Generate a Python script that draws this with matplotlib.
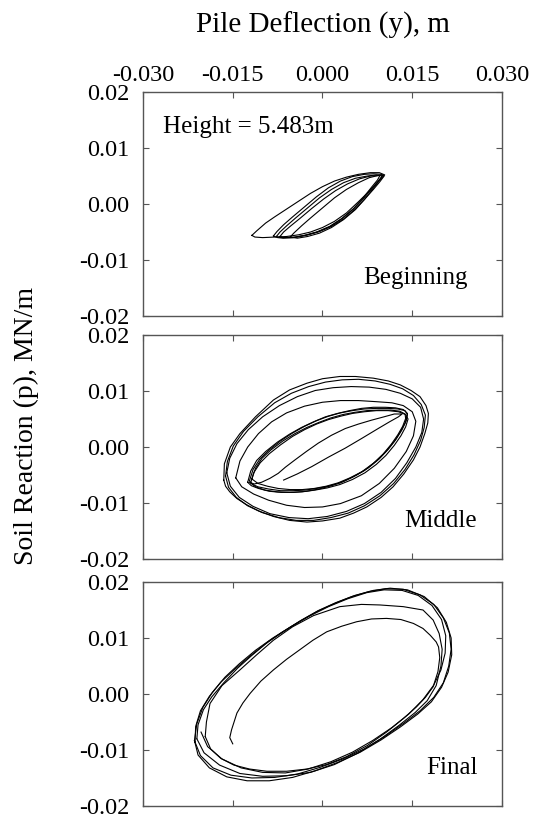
import matplotlib
matplotlib.use('Agg')
import matplotlib.pyplot as plt
from matplotlib.ticker import FormatStrFormatter

plt.rcParams['font.family'] = ['Liberation Serif', 'DejaVu Serif']
plt.rcParams['axes.unicode_minus'] = False

# traces, in units of 1e-3 (y in m, p in MN/m)
SCALE = 1e-3

BEGIN_LOOPS = [
    [(-11.8, -5.6), (-11.0, -4.8), (-9.5, -3.4), (-8.0, -2.3), (-6.0, -0.9), (-4.0, 0.5),
     (-2.0, 1.9), (0.0, 3.1), (2.0, 4.1), (4.0, 4.8), (6.0, 5.3), (8.0, 5.6), (9.5, 5.6),
     (10.4, 5.2), (9.5, 4.2), (8.0, 2.5), (6.0, 0.4), (4.0, -1.6), (2.0, -3.1), (0.0, -4.2),
     (-2.0, -5.0), (-4.0, -5.5), (-6.0, -5.8), (-8.0, -5.9), (-10.0, -6.0), (-11.3, -5.9),
     (-11.8, -5.6)],
    [(-8.2, -5.7), (-7.6, -4.9), (-6.5, -3.7), (-5.0, -2.3), (-3.0, -0.5), (-1.0, 1.3),
     (1.0, 2.9), (3.0, 4.1), (5.0, 4.9), (7.0, 5.3), (8.5, 5.4), (9.8, 5.3), (10.3, 5.0),
     (9.6, 4.0), (8.5, 2.6), (7.0, 0.8), (5.5, -0.9), (3.5, -2.7), (1.5, -4.0), (-0.5, -4.9),
     (-2.5, -5.5), (-4.5, -5.9), (-6.5, -6.0), (-7.8, -5.9), (-8.2, -5.7)],
    [(-7.7, -5.8), (-7.1, -5.0), (-6.0, -3.9), (-4.5, -2.5), (-2.5, -0.7), (-0.5, 1.1),
     (1.5, 2.6), (3.5, 3.8), (5.5, 4.6), (7.5, 5.0), (9.0, 5.2), (10.0, 5.0), (9.3, 4.1),
     (8.2, 2.7), (6.8, 0.9), (5.2, -0.9), (3.3, -2.6), (1.3, -4.0), (-0.8, -5.0),
     (-2.8, -5.6), (-4.8, -6.0), (-6.6, -6.1), (-7.5, -6.0), (-7.7, -5.8)],
    [(-7.1, -5.8), (-6.5, -5.0), (-5.3, -3.9), (-3.8, -2.6), (-1.8, -0.8), (0.2, 0.9),
     (2.2, 2.4), (4.2, 3.6), (6.2, 4.5), (8.0, 5.0), (9.6, 5.1), (9.2, 4.3), (8.2, 3.0),
     (6.8, 1.1), (5.2, -0.8), (3.2, -2.6), (1.2, -4.0), (-1.0, -5.0), (-3.0, -5.6),
     (-5.0, -6.0), (-6.6, -6.0), (-7.1, -5.8)],
    [(-5.4, -5.9), (-4.8, -5.2), (-3.5, -3.9), (-2.0, -2.5), (0.0, -0.7), (2.0, 1.1),
     (4.0, 2.6), (6.0, 3.8), (7.8, 4.7), (9.3, 5.1), (10.1, 5.2), (9.5, 4.2), (8.5, 2.8),
     (7.0, 0.8), (5.5, -1.0), (3.5, -2.8), (1.5, -4.2), (-0.5, -5.2), (-2.5, -5.8),
     (-4.2, -6.1), (-5.4, -5.9)],
]

MIDDLE_LOOPS = [
    [(-6.5, -5.9), (-4.2, -4.8), (-1.8, -3.5), (1.0, -1.8), (3.8, -0.2), (6.5, 1.5),
     (9.3, 3.3), (11.2, 4.5), (12.7, 5.4), (13.3, 5.9), (12.0, 5.9), (10.3, 5.4), (8.2, 4.8),
     (6.0, 4.1), (3.8, 3.3), (1.5, 2.1), (-0.7, 0.7), (-2.7, -0.8), (-4.6, -2.3),
     (-6.2, -3.6), (-7.4, -4.7), (-8.8, -5.6), (-10.2, -6.3), (-11.4, -6.6), (-12.2, -6.3)],
    [(-12.2, -6.0), (-11.6, -4.0), (-10.5, -2.2), (-9.0, -0.6), (-7.0, 1.1), (-5.0, 2.5),
     (-3.0, 3.7), (-1.0, 4.7), (1.0, 5.5), (3.0, 6.1), (5.0, 6.5), (7.0, 6.8), (9.0, 6.9),
     (11.0, 6.9), (12.6, 6.8), (13.8, 6.5), (14.2, 5.8), (13.8, 4.3), (13.0, 2.7),
     (12.0, 1.0), (10.5, -0.9), (9.0, -2.5), (7.0, -4.2), (5.0, -5.4), (3.0, -6.4),
     (1.0, -7.0), (-1.0, -7.4), (-3.0, -7.7), (-5.0, -7.8), (-7.0, -7.8), (-9.0, -7.5),
     (-10.8, -7.1), (-11.8, -6.6), (-12.2, -6.0)],
    [(-11.8, -5.7), (-11.2, -3.8), (-10.1, -2.0), (-8.6, -0.5), (-6.6, 1.1), (-4.6, 2.4),
     (-2.6, 3.5), (-0.6, 4.4), (1.4, 5.2), (3.4, 5.8), (5.4, 6.2), (7.4, 6.5), (9.4, 6.6),
     (11.4, 6.6), (12.9, 6.4), (13.8, 5.9), (13.9, 5.1), (13.4, 3.7), (12.6, 2.2),
     (11.5, 0.5), (10.1, -1.3), (8.5, -2.9), (6.6, -4.4), (4.6, -5.5), (2.6, -6.4),
     (0.6, -7.0), (-1.4, -7.4), (-3.4, -7.6), (-5.4, -7.6), (-7.4, -7.4), (-9.2, -7.0),
     (-10.8, -6.5), (-11.8, -5.7)],
    [(-12.5, -6.3), (-12.0, -4.3), (-11.0, -2.4), (-9.5, -0.8), (-7.5, 0.9), (-5.5, 2.3),
     (-3.5, 3.5), (-1.5, 4.5), (0.5, 5.4), (2.5, 6.0), (4.5, 6.5), (6.5, 6.9), (8.5, 7.1),
     (10.5, 7.1), (12.2, 7.0), (13.5, 6.7), (14.2, 6.0), (14.0, 4.7), (13.3, 3.1),
     (12.3, 1.4), (11.0, -0.4), (9.5, -2.1), (7.7, -3.7), (5.7, -5.0), (3.6, -6.1),
     (1.5, -6.9), (-0.6, -7.5), (-2.7, -7.9), (-4.8, -8.1), (-6.9, -8.1), (-8.9, -7.9),
     (-10.7, -7.4), (-11.9, -6.9), (-12.5, -6.3)],
    [(-12.0, -6.4), (-11.5, -4.6), (-10.4, -2.8), (-8.9, -1.2), (-7.0, 0.4), (-5.0, 1.9),
     (-3.0, 3.1), (-1.0, 4.1), (1.0, 4.9), (3.0, 5.5), (5.0, 6.0), (7.0, 6.3), (9.0, 6.5),
     (11.0, 6.5), (12.7, 6.3), (13.9, 5.8), (14.3, 5.0), (13.9, 3.6), (13.1, 2.0),
     (12.0, 0.3), (10.6, -1.5), (9.0, -3.1), (7.1, -4.6), (5.0, -5.8), (2.9, -6.7),
     (0.8, -7.3), (-1.3, -7.7), (-3.4, -8.0), (-5.5, -8.1), (-7.6, -8.0), (-9.6, -7.7),
     (-11.2, -7.1), (-12.0, -6.4)],
    [(-14.5, -5.5), (-13.8, -2.5), (-12.5, 0.0), (-10.7, 2.4), (-8.5, 4.5), (-6.0, 6.1),
     (-3.0, 7.3), (0.0, 8.0), (3.0, 8.3), (6.0, 8.3), (9.0, 8.1), (11.6, 7.9), (13.5, 7.4),
     (15.0, 6.3), (15.6, 4.6), (15.2, 2.0), (14.0, -0.8), (12.0, -3.8), (9.5, -6.5),
     (6.5, -8.7), (3.0, -10.1), (0.0, -10.7), (-3.0, -10.8), (-6.0, -10.4), (-9.0, -9.5),
     (-11.5, -8.4), (-13.5, -7.1), (-14.5, -5.5)],
    [(-16.5, -5.9), (-16.4, -3.0), (-15.4, 0.0), (-13.8, 2.4), (-11.2, 5.4), (-8.2, 8.4),
     (-5.5, 10.2), (-2.6, 11.4), (0.0, 12.2), (2.9, 12.6), (5.5, 12.6), (8.5, 12.3),
     (11.0, 11.8), (13.0, 11.1), (14.8, 10.1), (16.3, 9.0), (17.3, 7.4), (17.7, 6.0),
     (17.6, 4.3), (17.1, 2.4), (16.3, 0.0), (15.2, -2.3), (13.6, -4.8), (11.8, -7.1),
     (9.8, -9.0), (7.4, -10.7), (5.2, -11.8), (2.9, -12.7), (0.0, -13.2), (-2.6, -13.4),
     (-5.5, -13.1), (-8.2, -12.4), (-10.7, -11.4), (-12.7, -10.3), (-14.3, -9.2),
     (-15.5, -8.0), (-16.2, -7.0), (-16.5, -5.9)],
    [(-16.2, -5.2), (-15.9, -2.6), (-14.9, 0.2), (-13.2, 2.8), (-10.8, 5.4), (-8.0, 7.9),
     (-5.2, 9.6), (-2.3, 10.8), (0.5, 11.6), (3.3, 12.0), (6.0, 12.1), (8.8, 11.8),
     (11.3, 11.2), (13.4, 10.4), (15.2, 9.2), (16.5, 7.6), (17.2, 5.7), (17.0, 3.5),
     (16.4, 1.2), (15.3, -1.4), (13.8, -4.0), (11.9, -6.5), (9.6, -8.7), (7.0, -10.5),
     (4.3, -11.8), (1.4, -12.6), (-1.5, -13.1), (-4.4, -13.1), (-7.3, -12.6), (-10.1, -11.7),
     (-12.5, -10.5), (-14.4, -9.0), (-15.7, -7.2), (-16.2, -5.2)],
    [(-16.0, -4.6), (-15.5, -2.0), (-14.3, 0.6), (-12.4, 3.1), (-10.0, 5.4), (-7.2, 7.4),
     (-4.2, 9.0), (-1.2, 10.1), (1.8, 10.6), (4.8, 10.8), (7.8, 10.7), (10.6, 10.3),
     (13.0, 9.6), (15.0, 8.6), (16.4, 7.1), (16.9, 5.0), (16.6, 2.6), (15.6, 0.0),
     (14.1, -2.8), (12.2, -5.6), (9.8, -8.1), (7.0, -10.1), (4.0, -11.5), (0.8, -12.4),
     (-2.4, -12.8), (-5.6, -12.6), (-8.8, -11.9), (-11.6, -10.6), (-13.9, -9.0),
     (-15.4, -7.0), (-16.0, -4.6)],
]

FINAL_LOOPS = [
    [(-15.0, -8.9), (-15.5, -7.8), (-15.2, -6.4), (-14.3, -3.4), (-13.3, -1.6), (-12.1, 0.1),
     (-10.3, 2.3), (-8.2, 4.3), (-6.0, 6.2), (-3.8, 7.9), (-1.6, 9.6), (0.7, 11.1),
     (3.2, 12.1), (5.7, 12.9), (8.2, 13.4), (10.7, 13.5), (13.1, 13.3), (15.2, 12.6),
     (16.8, 11.7), (18.0, 10.5), (19.0, 9.3), (19.4, 8.4), (19.6, 6.5), (19.3, 4.0),
     (18.5, 1.3), (17.2, -0.6), (15.7, -2.3), (13.5, -4.4), (10.7, -6.8), (7.5, -9.2),
     (4.0, -11.2), (0.7, -12.6), (-2.6, -13.4), (-6.0, -13.8), (-9.3, -13.8), (-12.2, -13.4),
     (-14.8, -12.7), (-17.0, -11.5), (-18.7, -9.8), (-19.6, -7.6)],
    [(-19.6, -7.6), (-19.4, -5.0), (-18.8, -1.7), (-16.8, 1.5), (-13.8, 4.3), (-11.0, 7.0),
     (-8.2, 9.6), (-5.0, 12.0), (-1.5, 14.0), (2.9, 15.6), (6.5, 16.0), (9.6, 15.9),
     (13.5, 15.6), (16.8, 15.0), (18.5, 13.2), (19.5, 10.8), (20.0, 8.0), (19.8, 5.0),
     (19.0, 1.5), (17.5, -1.2), (15.5, -3.3), (12.8, -5.6), (9.6, -8.1), (6.0, -10.5),
     (2.0, -12.6), (-2.0, -14.0), (-6.0, -14.6), (-10.0, -14.7), (-13.8, -14.2),
     (-17.2, -12.7), (-19.8, -10.5), (-21.0, -8.0)],
    [(-21.0, -8.0), (-20.8, -5.5), (-19.9, -2.8), (-18.5, -0.5), (-16.5, 2.0), (-14.2, 4.6),
     (-11.8, 6.9), (-9.0, 9.4), (-6.3, 11.3), (-3.5, 13.2), (-0.7, 14.9), (2.2, 16.3),
     (4.9, 17.4), (7.8, 18.3), (10.6, 18.8), (13.5, 18.7), (16.3, 17.7), (18.6, 16.0),
     (20.2, 13.6), (21.2, 10.9), (21.5, 8.0), (21.1, 5.0), (20.2, 2.0), (18.6, -0.6),
     (16.3, -3.0), (13.6, -5.2), (10.4, -7.6), (7.0, -9.8), (3.4, -11.6), (-0.4, -13.1),
     (-4.2, -14.3), (-8.0, -14.9), (-11.8, -15.0), (-15.3, -14.5), (-18.3, -13.2),
     (-20.4, -11.0), (-21.3, -8.6)],
    [(-21.3, -8.6), (-21.2, -5.8), (-20.4, -3.0), (-18.9, -0.4), (-17.0, 2.1), (-14.8, 4.3),
     (-12.3, 6.6), (-9.6, 8.9), (-6.8, 11.0), (-3.8, 13.0), (-0.8, 14.8), (2.3, 16.3),
     (5.4, 17.6), (8.5, 18.5), (11.3, 18.9), (14.2, 18.6), (17.0, 17.4), (19.2, 15.4),
     (20.7, 12.8), (21.5, 10.0), (21.6, 7.0), (21.0, 3.9), (19.9, 1.2), (18.2, -1.4),
     (15.9, -3.6), (13.0, -5.9), (9.8, -8.2), (6.3, -10.4), (2.6, -12.2), (-1.2, -13.7),
     (-5.0, -14.9), (-8.9, -15.5), (-12.6, -15.5), (-16.0, -14.8), (-18.9, -13.2),
     (-20.8, -10.9), (-21.4, -8.3)],
    [(-21.4, -8.3), (-21.0, -5.3), (-20.0, -2.4), (-18.4, 0.3), (-16.3, 3.0), (-13.9, 5.4),
     (-11.2, 7.8), (-8.3, 10.0), (-5.3, 12.0), (-2.2, 13.9), (1.0, 15.6), (4.2, 17.0),
     (7.4, 18.1), (10.3, 18.6), (13.3, 18.5), (16.0, 17.6), (18.3, 15.8), (19.9, 13.3),
     (20.6, 10.4), (20.5, 7.3), (19.8, 4.3), (18.6, 1.6), (16.8, -1.0), (14.4, -3.6),
     (11.6, -6.0), (8.4, -8.3), (5.0, -10.4), (1.4, -12.1), (-2.4, -13.4), (-6.2, -14.1),
     (-10.0, -14.0), (-13.6, -13.2), (-16.8, -11.6), (-19.2, -9.4), (-20.3, -6.8)],
]

PANEL_LABELS = ['Beginning', 'Middle', 'Final']
X_TICKS = [-0.030, -0.015, 0.000, 0.015, 0.030]
Y_TICKS = [-0.02, -0.01, 0.00, 0.01, 0.02]
HEIGHT_TEXT = 'Height = 5.483m'

FRAME = '#555555'

fig = plt.figure(figsize=(5.33, 8.21), dpi=100)

panel_rects = [
    [0.2683, 0.6151, 0.6735, 0.2728],
    [0.2683, 0.3191, 0.6735, 0.2728],
    [0.2683, 0.0183, 0.6735, 0.2728],
]
label_x = [0.0243, 0.0258, 0.0260]

for i, (rect, loops, name) in enumerate(zip(panel_rects, [BEGIN_LOOPS, MIDDLE_LOOPS, FINAL_LOOPS], PANEL_LABELS)):
    ax = fig.add_axes(rect)
    for loop in loops:
        xs = [p[0] * SCALE for p in loop]
        ys = [p[1] * SCALE for p in loop]
        ax.plot(xs, ys, color='black', linewidth=0.8)

    ax.set_xlim(X_TICKS[0], X_TICKS[-1])
    ax.set_ylim(Y_TICKS[0], Y_TICKS[-1])
    ax.set_xticks(X_TICKS)
    ax.set_yticks(Y_TICKS)
    ax.xaxis.set_major_formatter(FormatStrFormatter('%.3f'))
    ax.yaxis.set_major_formatter(FormatStrFormatter('%.2f'))

    for spine in ax.spines.values():
        spine.set_color(FRAME)
        spine.set_linewidth(1.0)

    ax.tick_params(axis='both', direction='in', length=4.5, width=0.8, color=FRAME,
                   top=True, right=True, labelsize=17.5)
    ax.tick_params(axis='y', pad=10)
    ax.tick_params(axis='x', labelbottom=False, labeltop=(i == 0), pad=4)

    ax.text(label_x[i], -0.0132, name, ha='right', va='center', fontsize=18)
    if i == 0:
        ax.text(-0.0267, 0.01375, HEIGHT_TEXT, ha='left', va='center', fontsize=18)

fig.text(322.5 / 533, 1 - 33 / 821, 'Pile Deflection (y), m', ha='center', va='baseline', fontsize=21)
fig.text(26 / 533, 1 - 426 / 821, 'Soil Reaction (p), MN/m', ha='center', va='center',
         rotation=90, fontsize=20)

fig.savefig('out.png', dpi=100)
plt.close(fig)
